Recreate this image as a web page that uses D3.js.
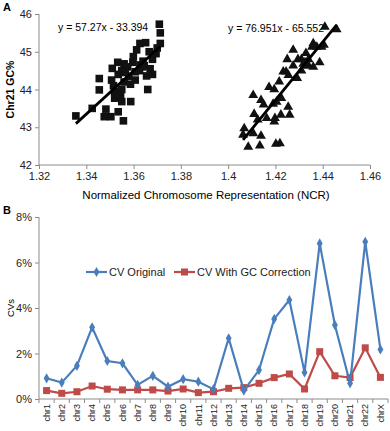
<!DOCTYPE html>
<html>
<head>
<meta charset="utf-8">
<script src="https://cdn.jsdelivr.net/npm/d3@7"></script>
<style>
  html, body { margin: 0; padding: 0; background: #fff; }
  svg { display: block; font-family: "Liberation Sans", Arial, sans-serif; }
  .axis path, .axis line { stroke: #8c8c8c; }
  .axis text { fill: #222; font-size: 11px; }
</style>
</head>
<body>
<svg id="chart" width="390" height="431"></svg>
<script>
// ---- Panel A data: chr21 GC% vs normalized chromosome representation
const squareNcr = [1.3356, 1.3425, 1.3455, 1.3455, 1.3483, 1.3476, 1.3504, 1.3535, 1.3557, 1.351,
  1.3507, 1.3533, 1.352, 1.352, 1.355, 1.355, 1.356, 1.3535, 1.356, 1.355,
  1.3588, 1.3587, 1.3597, 1.3599, 1.3607, 1.3607, 1.3613, 1.3627, 1.3627, 1.3638,
  1.3651, 1.3645, 1.3655, 1.366, 1.3666, 1.368, 1.368, 1.3695, 1.3709, 1.3713,
  1.3713, 1.370, 1.3575, 1.3565, 1.3545, 1.3625, 1.3640, 1.3515, 1.3580, 1.3670];
const squareGc = [43.30, 43.50, 44.29, 43.99, 43.48, 43.28, 43.28, 43.41, 43.17, 44.56,
  44.25, 44.72, 43.94, 43.77, 43.68, 44.00, 44.20, 44.40, 44.68, 44.50,
  43.68, 44.14, 44.72, 44.87, 44.47, 44.25, 45.05, 44.65, 45.22, 44.60,
  45.24, 44.63, 44.36, 44.00, 45.00, 44.40, 44.80, 44.95, 45.73, 45.50,
  45.22, 45.10, 44.60, 44.45, 43.85, 44.50, 44.75, 44.10, 44.35, 44.55];

const triangleNcr = [1.4085, 1.4134, 1.4202, 1.4219, 1.4068, 1.4063, 1.4106, 1.4139, 1.4106, 1.411,
  1.4139, 1.415, 1.4125, 1.4163, 1.4173, 1.4195, 1.4198, 1.4195, 1.419, 1.4205,
  1.4216, 1.4225, 1.4223, 1.4254, 1.426, 1.4233, 1.4245, 1.4255, 1.425, 1.4275,
  1.4275, 1.4292, 1.4295, 1.431, 1.431, 1.4329, 1.433, 1.434, 1.434, 1.436,
  1.436, 1.4355, 1.4375, 1.4387, 1.4395, 1.4405, 1.4409, 1.4459, 1.4325, 1.4318];
const triangleGc = [42.48, 42.51, 42.56, 42.57, 42.97, 42.80, 42.84, 42.77, 43.85, 43.35,
  43.72, 43.60, 43.20, 43.24, 44.06, 44.00, 43.24, 43.15, 43.62, 43.67,
  44.21, 43.77, 43.33, 43.54, 43.33, 44.47, 44.47, 44.38, 44.80, 45.05,
  44.63, 44.30, 44.80, 44.80, 44.50, 44.96, 44.63, 44.80, 44.63, 45.22,
  44.60, 45.13, 45.13, 44.72, 45.13, 45.18, 45.66, 45.59, 44.72, 44.68];

const fitSquare = { slope: 57.27, intercept: -33.394, label: "y = 57.27x - 33.394" };
const fitTriangle = { slope: 76.951, intercept: -65.552, label: "y = 76.951x - 65.552" };

const ncrTicks = [1.32, 1.34, 1.36, 1.38, 1.4, 1.42, 1.44, 1.46];
const gcTicks = [42, 43, 44, 45, 46];

// ---- Panel B data: CVs per chromosome
const chromosomes = ["chr1", "chr2", "chr3", "chr4", "chr5", "chr6", "chr7", "chr8", "chr9", "chr10",
  "chr11", "chr12", "chr13", "chr14", "chr15", "chr16", "chr17", "chr18", "chr19", "chr20",
  "chr21", "chr22", "chrX"];
const cvOriginal = [0.91, 0.72, 1.46, 3.15, 1.67, 1.57, 0.62, 1.02, 0.54, 0.87,
  0.76, 0.43, 2.67, 0.37, 1.27, 3.52, 4.35, 1.17, 6.84, 3.25,
  0.69, 6.91, 2.18];
const cvCorrected = [0.37, 0.25, 0.32, 0.57, 0.43, 0.40, 0.40, 0.40, 0.35, 0.44,
  0.28, 0.32, 0.47, 0.50, 0.69, 0.94, 1.10, 0.44, 2.08, 1.02,
  0.94, 2.25, 0.95];
const cvTicks = [0, 2, 4, 6, 8];

const BLUE = "#4a7ebb";
const RED = "#be4b48";

const svg = d3.select("#chart");

// ===================== Panel A =====================
const xA = d3.scaleLinear().domain([1.32, 1.46]).range([39, 370]);
const yA = d3.scaleLinear().domain([42, 46]).range([165, 14]);

svg.append("g").attr("class", "axis")
  .attr("transform", `translate(0,${yA(42)})`)
  .call(d3.axisBottom(xA).tickValues(ncrTicks).tickFormat(d3.format("")).tickSize(4).tickPadding(3))
  .call((g) => g.select(".domain").attr("d", `M${xA(1.32)},0H${xA(1.46)}`));

svg.append("g").attr("class", "axis")
  .attr("transform", `translate(${xA(1.32)},0)`)
  .call(d3.axisLeft(yA).tickValues(gcTicks).tickFormat(d3.format("d")).tickSize(4).tickPadding(3))
  .call((g) => g.select(".domain").attr("d", `M0,${yA(42)}V${yA(46)}`));

svg.append("text").text("A").attr("x", 3).attr("y", 11)
  .attr("font-size", 11).attr("font-weight", "bold");

svg.append("text").text("Chr21 GC%")
  .attr("transform", `translate(14,${yA(44)}) rotate(-90)`)
  .attr("text-anchor", "middle").attr("font-size", 10.5).attr("font-weight", "bold");

svg.append("text").text("Normalized Chromosome Representation (NCR)")
  .attr("x", 206).attr("y", 199).attr("text-anchor", "middle").attr("font-size", 11.5);

const sqPts = squareNcr.map((x, i) => [x, squareGc[i]]);
const triPts = triangleNcr.map((x, i) => [x, triangleGc[i]]);

svg.append("g").selectAll("rect")
  .data(sqPts).join("rect")
  .attr("x", (d) => xA(d[0]) - 3.8).attr("y", (d) => yA(d[1]) - 3.8)
  .attr("width", 7.6).attr("height", 7.6)
  .attr("fill", "#111");

const tri = d3.symbol().type(d3.symbolTriangle).size(42);
svg.append("g").selectAll("path")
  .data(triPts).join("path")
  .attr("d", tri)
  .attr("transform", (d) => `translate(${xA(d[0])},${yA(d[1])})`)
  .attr("fill", "#111");

function trendLine(pts, fit) {
  const ext = d3.extent(pts, (d) => d[0]);
  const line = d3.line().x((d) => xA(d)).y((d) => yA(fit.slope * d + fit.intercept));
  svg.append("path").attr("d", line(ext))
    .attr("stroke", "#000").attr("stroke-width", 2.8).attr("fill", "none");
}
trendLine(sqPts, fitSquare);
trendLine(triPts, fitTriangle);

svg.append("text").text(fitSquare.label).attr("x", 58).attr("y", 31).attr("font-size", 10.5);
svg.append("text").text(fitTriangle.label).attr("x", 228).attr("y", 32).attr("font-size", 10.5);

// ===================== Panel B =====================
const xB = d3.scaleBand().domain(chromosomes).range([39, 388]);
const yB = d3.scaleLinear().domain([0, 8]).range([399, 217]);
const cx = (d) => xB(d) + xB.bandwidth() / 2;

// x axis with ticks at category boundaries
const gx = svg.append("g").attr("class", "axis");
gx.append("path").attr("d", `M39,${yB(0)}H388`).attr("stroke", "#8c8c8c");
gx.selectAll("line").data(chromosomes.concat(["_end"])).join("line")
  .attr("x1", (d, i) => 39 + i * xB.step()).attr("x2", (d, i) => 39 + i * xB.step())
  .attr("y1", yB(0)).attr("y2", yB(0) + 4);
gx.selectAll("text").data(chromosomes).join("text")
  .text((d) => d)
  .attr("transform", (d) => `translate(${cx(d) + 3.2},${yB(0) + 5}) rotate(-90)`)
  .attr("text-anchor", "end").style("font-size", "9px");

svg.append("g").attr("class", "axis")
  .attr("transform", `translate(39,0)`)
  .call(d3.axisLeft(yB).tickValues(cvTicks).tickFormat((d) => d + "%").tickSize(4).tickPadding(3))
  .call((g) => g.select(".domain").attr("d", `M0,${yB(0)}V${yB(8)}`));

svg.append("text").text("B").attr("x", 3).attr("y", 214)
  .attr("font-size", 11).attr("font-weight", "bold");

svg.append("text").text("CVs")
  .attr("transform", `translate(14,${yB(4)}) rotate(-90)`)
  .attr("text-anchor", "middle").attr("font-size", 9.5);

const lineB = (vals) => d3.line().x((d, i) => cx(chromosomes[i])).y((d) => yB(d))(vals);

svg.append("path").attr("d", lineB(cvCorrected))
  .attr("stroke", RED).attr("stroke-width", 2.2).attr("fill", "none");
svg.append("g").selectAll("rect").data(cvCorrected).join("rect")
  .attr("x", (d, i) => cx(chromosomes[i]) - 3.5).attr("y", (d) => yB(d) - 3.5)
  .attr("width", 7).attr("height", 7).attr("fill", RED);

svg.append("path").attr("d", lineB(cvOriginal))
  .attr("stroke", BLUE).attr("stroke-width", 2.2).attr("fill", "none");
const diamond = d3.symbol().type(d3.symbolDiamond).size(30);
svg.append("g").selectAll("path").data(cvOriginal).join("path")
  .attr("d", diamond)
  .attr("transform", (d, i) => `translate(${cx(chromosomes[i])},${yB(d)})`)
  .attr("fill", BLUE);

// legend
const legend = svg.append("g").attr("font-size", 11);
const legendItems = [
  { label: "CV Original", color: BLUE, x: 86, marker: "diamond" },
  { label: "CV With GC Correction", color: RED, x: 174, marker: "square" }
];
legendItems.forEach((it) => {
  const ly = 272;
  legend.append("line").attr("x1", it.x).attr("x2", it.x + 21).attr("y1", ly).attr("y2", ly)
    .attr("stroke", it.color).attr("stroke-width", 2.2);
  if (it.marker === "diamond") {
    legend.append("path").attr("d", diamond).attr("transform", `translate(${it.x + 10.5},${ly})`).attr("fill", it.color);
  } else {
    legend.append("rect").attr("x", it.x + 7).attr("y", ly - 3.5).attr("width", 7).attr("height", 7).attr("fill", it.color);
  }
  legend.append("text").text(it.label).attr("x", it.x + 23).attr("y", ly + 4).attr("fill", "#222");
});
</script>
</body>
</html>
